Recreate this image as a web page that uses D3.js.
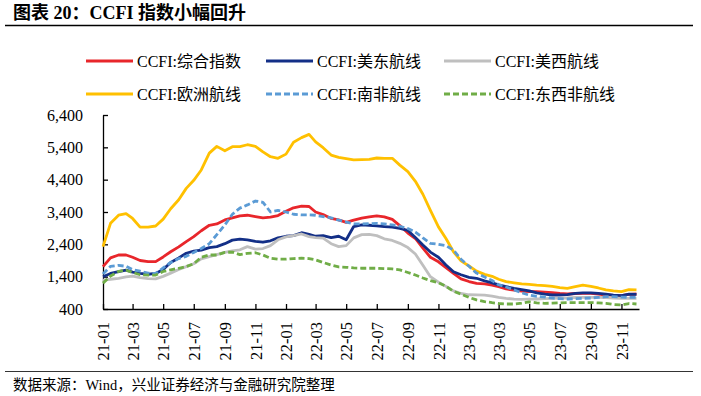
<!DOCTYPE html>
<html>
<head>
<meta charset="utf-8">
<script src="https://cdn.jsdelivr.net/npm/d3@7"></script>
<style>
  body { margin: 0; background: #fff; }
  text { font-family: 'Liberation Serif', 'Noto Sans CJK SC', serif; }
</style>
</head>
<body>
<div id="chart"></div>
<script>
// half-month sample dates
const dates = [
  '21-01-01','21-01-16','21-02-01','21-02-16','21-03-01','21-03-16','21-04-01','21-04-16','21-05-01','21-05-16','21-06-01','21-06-16',
  '21-07-01','21-07-16','21-08-01','21-08-16','21-09-01','21-09-16','21-10-01','21-10-16','21-11-01','21-11-16','21-12-01','21-12-16',
  '22-01-01','22-01-16','22-02-01','22-02-16','22-03-01','22-03-16','22-04-01','22-04-16','22-05-01','22-05-16','22-06-01','22-06-16',
  '22-07-01','22-07-16','22-08-01','22-08-16','22-09-01','22-09-16','22-10-01','22-10-16','22-11-01','22-11-16','22-12-01','22-12-16',
  '23-01-01','23-01-16','23-02-01','23-02-16','23-03-01','23-03-16','23-04-01','23-04-16','23-05-01','23-05-16','23-06-01','23-06-16',
  '23-07-01','23-07-16','23-08-01','23-08-16','23-09-01','23-09-16','23-10-01','23-10-16','23-11-01','23-11-16','23-12-01'
]

const composite = [
  1710, 1980, 2070, 2070, 2000, 1900, 1865, 1865, 2010, 2170, 2320, 2485,
  2640, 2820, 2990, 3030, 3155, 3220, 3280, 3300, 3260, 3220, 3240, 3290,
  3420, 3530, 3580, 3570, 3400, 3320, 3200, 3155, 3080, 3150, 3210, 3250,
  3280, 3250, 3170, 2980, 2750, 2580, 2280, 2000, 1860, 1680, 1500, 1330,
  1250, 1195, 1175, 1140, 1090, 1020, 985, 950, 936, 936, 920, 905,
  880, 864, 880, 885, 885, 860, 833, 820, 812, 850, 864
]
const usEast = [
  1400, 1500, 1555, 1600, 1540, 1500, 1475, 1500, 1620, 1840, 1980, 2125,
  2190, 2220, 2300, 2330, 2420, 2530, 2560, 2540, 2490, 2465, 2510, 2600,
  2650, 2670, 2760, 2710, 2650, 2670, 2610, 2650, 2540, 2950, 3000, 2990,
  2970, 2950, 2930, 2890, 2830, 2610, 2380, 2160, 2000, 1760, 1550, 1460,
  1380, 1350, 1270, 1210, 1145, 1090, 1035, 1000, 960, 900, 860, 833,
  833, 845, 885, 900, 900, 885, 860, 830, 815, 860, 850
]
const usWest = [
  1290, 1320, 1350, 1390, 1420, 1370, 1340, 1330, 1410, 1510, 1620, 1710,
  1800, 1950, 2020, 2080, 2150, 2200, 2230, 2330, 2250, 2270, 2360, 2540,
  2630, 2670, 2720, 2640, 2610, 2590, 2420, 2330, 2360, 2600, 2700, 2710,
  2670, 2570, 2520, 2430, 2300, 2100, 1750, 1400, 1230, 1100, 960, 880,
  840, 835, 830, 800, 760, 730, 705, 700, 705, 710, 720, 730,
  735, 740, 755, 760, 760, 760, 755, 740, 730, 730, 730
]
const europe = [
  2327, 3050, 3300, 3350, 3200, 2930, 2930, 2967, 3180, 3500, 3780, 4130,
  4380, 4700, 5220, 5430, 5295, 5420, 5420, 5480, 5430, 5260, 5110, 5060,
  5190, 5560, 5700, 5800, 5570, 5390, 5160, 5090, 5050, 5010, 5020, 5030,
  5070, 5060, 5060, 4850, 4650, 4350, 3950, 3450, 2940, 2580, 2170, 1890,
  1730, 1570, 1470, 1410, 1320, 1245, 1210, 1175, 1160, 1140, 1125, 1100,
  1060, 1040, 1090, 1140, 1100, 1050, 990, 960, 940, 1000, 990
]
const southAfrica = [
  1480, 1720, 1750, 1720, 1620, 1570, 1510, 1500, 1670, 1840, 1960, 2030,
  2150, 2270, 2420, 2700, 3000, 3330, 3520, 3620, 3740, 3700, 3400, 3450,
  3400, 3330, 3310, 3310, 3300, 3260, 3220, 3150, 3090, 3030, 3030, 3040,
  3050, 3030, 3000, 2960, 2890, 2780, 2600, 2430, 2400, 2360, 2220, 1940,
  1720, 1510, 1390, 1280, 1150, 1080, 990, 900, 830, 790, 770, 735,
  720, 710, 720, 730, 740, 760, 780, 780, 770, 760, 760
]
const eastWestAfrica = [
  1200, 1420, 1560, 1600, 1530, 1460, 1450, 1450, 1560, 1610, 1660, 1710,
  1800, 2000, 2070, 2070, 2150, 2160, 2080, 2120, 2140, 2070, 1970, 1940,
  1940, 1960, 1970, 1960, 1920, 1840, 1760, 1700, 1690, 1670, 1660, 1660,
  1660, 1650, 1640, 1610, 1530, 1450, 1360, 1280, 1215, 1100, 950, 860,
  760, 680, 630, 595, 570, 555, 555, 580, 620, 590, 575, 580,
  590, 600, 600, 600, 600, 590, 575, 540, 525, 570, 555
]

const seriesNames = ['CCFI:综合指数', 'CCFI:美东航线', 'CCFI:美西航线', 'CCFI:欧洲航线', 'CCFI:南非航线', 'CCFI:东西非航线']
const seriesValues = [composite, usEast, usWest, europe, southAfrica, eastWestAfrica]
const yTicks = [400, 1400, 2400, 3400, 4400, 5400, 6400]

const colors = ['#e8262b', '#132f87', '#bfbfbf', '#ffc000', '#5b9bd5', '#70ad47']
const dashes = [null, null, null, null, '6,3', '6,3']

const width = 701
const height = 396
const margin = { left: 103, right: 62, top: 115, bottom: 87 }

const parse = d3.timeParse('%y-%m-%d')
const dateObjs = dates.map(parse)

const svg = d3.select('#chart')
  .append('svg')
  .attr('width', width)
  .attr('height', height)

// title
svg.append('text')
  .attr('x', 13)
  .attr('y', 19)
  .style('font-size', '18px')
  .style('font-weight', 'bold')
  .text('图表 20：CCFI 指数小幅回升')

svg.append('line')
  .attr('x1', 5).attr('x2', 693)
  .attr('y1', 25.5).attr('y2', 25.5)
  .attr('stroke', '#000')
  .attr('stroke-width', 1.5)

const x = d3.scaleTime()
  .domain([parse('21-01-01'), parse('23-12-06')])
  .range([margin.left, width - margin.right])

const y = d3.scaleLinear()
  .domain([400, 6400])
  .range([height - margin.bottom, margin.top])

// y axis
const yAxis = svg.append('g')
  .attr('transform', 'translate(' + margin.left + ',0)')
  .call(d3.axisLeft(y)
    .tickValues(yTicks)
    .tickFormat(d3.format(','))
    .tickSizeInner(-5)
    .tickSizeOuter(0)
    .tickPadding(20))

yAxis.selectAll('text')
  .style('font-size', '16px')
  .attr('fill', '#000')

// x axis
const xTicks = d3.timeMonth.every(2).range(parse('21-01-01'), parse('23-12-01'))

const xAxis = svg.append('g')
  .attr('transform', 'translate(0,' + (height - margin.bottom) + ')')
  .call(d3.axisBottom(x)
    .tickValues(xTicks)
    .tickFormat(d3.timeFormat('%y-%m'))
    .tickSizeInner(-5)
    .tickSizeOuter(0))

xAxis.selectAll('text')
  .style('font-size', '16.5px')
  .attr('fill', '#000')
  .attr('text-anchor', 'end')
  .attr('transform', 'rotate(-90)')
  .attr('x', -13)
  .attr('y', 0)
  .attr('dy', '0.35em')

svg.selectAll('.domain, .tick line').attr('stroke', '#000').attr('stroke-width', 1.3)

// lines
const line = d3.line()
  .x((d, i) => x(dateObjs[i]))
  .y(d => y(d))

seriesValues.forEach(function (vals, i) {
  svg.append('path')
    .datum(vals)
    .attr('d', line)
    .attr('fill', 'none')
    .attr('stroke', colors[i])
    .attr('stroke-width', 2.8)
    .attr('stroke-dasharray', dashes[i])
    .attr('stroke-linejoin', 'round')
})

// legend
const legendX = [86, 266, 444]
const legendY = [61, 94]

seriesNames.forEach(function (name, i) {
  const g = svg.append('g')
    .attr('transform', 'translate(' + legendX[i % 3] + ',' + legendY[Math.floor(i / 3)] + ')')

  g.append('line')
    .attr('x1', 0).attr('x2', 47)
    .attr('stroke', colors[i])
    .attr('stroke-width', 2.8)
    .attr('stroke-dasharray', dashes[i])

  g.append('text')
    .attr('x', 51)
    .attr('dy', '0.35em')
    .style('font-size', '16px')
    .text(name)
})

// source note
svg.append('line')
  .attr('x1', 5).attr('x2', 693)
  .attr('y1', 371.5).attr('y2', 371.5)
  .attr('stroke', '#000')
  .attr('stroke-width', 0.8)

svg.append('text')
  .attr('x', 13)
  .attr('y', 390)
  .style('font-size', '14.5px')
  .text('数据来源：Wind，兴业证券经济与金融研究院整理')
</script>
</body>
</html>
